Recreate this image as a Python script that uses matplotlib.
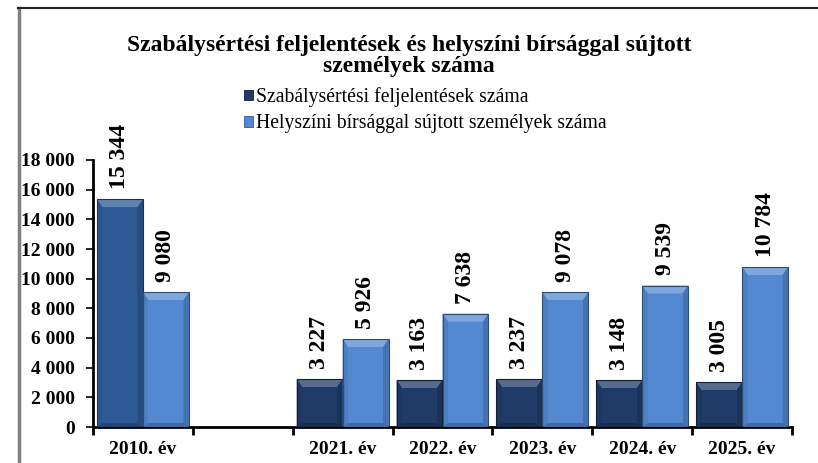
import matplotlib
matplotlib.use("Agg")
import matplotlib.pyplot as plt
from matplotlib.patches import Polygon
from matplotlib.lines import Line2D
from matplotlib.patches import Rectangle
import numpy as np

categories = ["2010. év", "", "2021. év", "2022. év", "2023. év", "2024. év", "2025. év"]
feljelentesek = [15344, None, 3227, 3163, 3237, 3148, 3005]
birsag = [9080, None, 5926, 7638, 9078, 9539, 10784]
series_names = ["Szabálysértési feljelentések száma",
                "Helyszíni bírsággal sújtott személyek száma"]
title = "Szabálysértési feljelentések és helyszíni bírsággal sújtott\nszemélyek száma"
yticks = list(range(0, 18001, 2000))

dark_2010 = "#2E5A96"
dark = "#1F3B67"
light = "#5389D0"

plt.rcParams['font.family'] = ['Liberation Serif', 'DejaVu Serif']

fig = plt.figure(figsize=(8.18, 4.63), dpi=100)
ax = fig.add_axes([93/818, 1-427/463, (792-93)/818, (427-160)/463])

x = np.arange(len(categories))
w = 0.46


def fmt(v):
    return f"{v:,}".replace(",", " ")


def shade(c, f):
    r, g, b = matplotlib.colors.to_rgb(c)
    if f > 1:
        return (r + (1-r)*(f-1), g + (1-g)*(f-1), b + (1-b)*(f-1))
    return (r*f, g*f, b*f)


def bevel(ax, rect, color):
    x0, y0 = rect.get_x(), rect.get_y()
    x1, y1 = x0 + rect.get_width(), y0 + rect.get_height()
    bx = rect.get_width() * 0.12
    by = 18000 / 267 * 8
    by = min(by, rect.get_height() * 0.3)
    bb = by * 0.5
    inner = [(x0+bx, y0+bb), (x1-bx, y0+bb), (x1-bx, y1-by), (x0+bx, y1-by)]
    top = [(x0, y1), (x1, y1), (x1-bx, y1-by), (x0+bx, y1-by)]
    left = [(x0, y0), (x0+bx, y0+bb), (x0+bx, y1-by), (x0, y1)]
    right = [(x1, y0), (x1, y1), (x1-bx, y1-by), (x1-bx, y0+bb)]
    bottom = [(x0, y0), (x1, y0), (x1-bx, y0+bb), (x0+bx, y0+bb)]
    for pts, f in [(top, 1.25), (left, 0.93), (right, 0.85), (bottom, 0.78), (inner, 1.0)]:
        ax.add_patch(Polygon(pts, closed=True, facecolor=shade(color, f),
                             edgecolor='none', zorder=3))
    ax.add_patch(Rectangle((x0, y0), x1-x0, y1-y0, facecolor='none',
                           edgecolor=shade(color, 0.55), lw=0.8, zorder=3.5))


for i in range(len(categories)):
    if feljelentesek[i] is None:
        continue
    c1 = dark_2010 if i == 0 else dark
    b1 = ax.bar(x[i] - w/2, feljelentesek[i], w, color=c1, zorder=2)
    b2 = ax.bar(x[i] + w/2, birsag[i], w, color=light, zorder=2)
    bevel(ax, b1[0], c1)
    bevel(ax, b2[0], light)
    for xx, v in [(x[i]-w/2, feljelentesek[i]), (x[i]+w/2, birsag[i])]:
        ax.text(xx, v + 680, fmt(v), rotation=90, ha='center', va='bottom',
                fontsize=17, fontweight='bold', zorder=4)

ax.set_xlim(-0.5, len(categories) - 0.5)
ax.set_ylim(0, 18000)
ax.set_yticks(yticks)
ax.set_yticklabels([fmt(v) for v in yticks], fontsize=14, fontweight='bold')
ax.set_xticks(x)
ax.set_xticklabels(categories, fontsize=14, fontweight='bold')
ax.tick_params(axis='x', length=0, pad=10)
ax.set_xticks(np.arange(len(categories)+1) - 0.5, minor=True)
ax.tick_params(axis='x', which='minor', length=6, width=2, direction='out')
ax.tick_params(axis='y', length=5, width=1.2, direction='out', pad=8)
for s in ['top', 'right']:
    ax.spines[s].set_visible(False)
for s in ['left', 'bottom']:
    ax.spines[s].set_linewidth(2)

fig.text(0.5, 1-56/463, title, ha='center', va='center', fontsize=17,
         fontweight='bold', linespacing=1.05)

handles = [Rectangle((0, 0), 1, 1, facecolor=dark, edgecolor='#0f1f38', lw=0.6),
           Rectangle((0, 0), 1, 1, facecolor=light, edgecolor='#2f5b96', lw=0.6)]
leg = fig.legend(handles, series_names, loc='upper left',
                 bbox_to_anchor=(244/818, 1-87/463), frameon=False,
                 fontsize=14.2, handlelength=0.45, handleheight=0.45,
                 handletextpad=0.15, labelspacing=0.38, borderpad=0, borderaxespad=0)

# frame lines
fig.add_artist(Line2D([19/818, 19/818], [0, 1-8/463], color='#808080', lw=2.5,
                      transform=fig.transFigure))
fig.add_artist(Line2D([18/818, 1], [1-8/463, 1-8/463], color='#222222', lw=1.5,
                      transform=fig.transFigure))

fig.savefig("out.png", dpi=100)
